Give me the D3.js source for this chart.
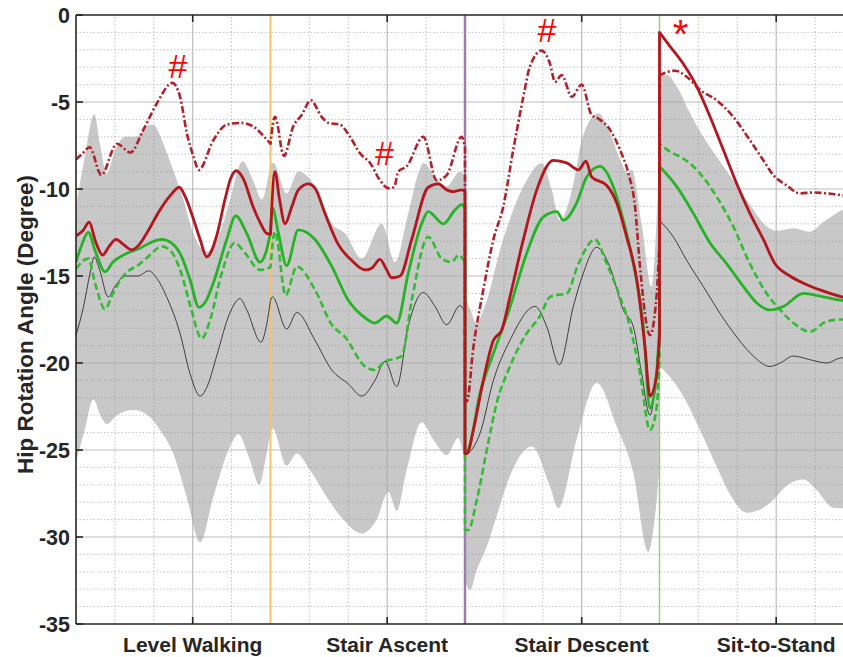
<!DOCTYPE html>
<html>
<head>
<meta charset="utf-8">
<script src="https://cdn.jsdelivr.net/npm/d3@7"></script>
<style>
body { margin: 0; background: #fff; }
svg { display: block; font-family: "Liberation Sans", Arial, sans-serif; }
</style>
</head>
<body>
<div id="container"></div>
<script>
// tasks along the x axis (each task spans 100 units)
var tasks = ["Level Walking", "Stair Ascent", "Stair Descent", "Sit-to-Stand"];
var taskTicks = [60, 160, 260, 360];
var taskBounds = [100, 200, 300];
var yTicks = [-35, -30, -25, -20, -15, -10, -5, 0];

// significance marks: [symbol, x, y]
var sigMarks = [["#", 52.4, -2.9], ["#", 158.6, -7.9], ["#", 242.2, -0.85], ["*", 310.8, -0.75]];

// grey band (upper / lower), one array per task
var bandUpper = [
	[[0,-11.0],[4.6,-8.1],[9.4,-5.7],[12.3,-7.4],[15.8,-9.1],[20,-7.8],[25.2,-7.0],[31.2,-7.0],[36.3,-6.4],[39.6,-6.3],[44.9,-7.4],[49.9,-8.9],[55.2,-10.6],[60.3,-12.55],[67.2,-13.6],[74,-12.55],[79.2,-10.6],[85.7,-8.4],[91,-9.5],[95.5,-10.6],[100,-8.5]],
	[[100,-8.5],[101.4,-8.5],[108.3,-10.25],[114.3,-9.0],[122.9,-9.85],[131.5,-12.0],[138.3,-12.55],[146.9,-14.0],[157.2,-12.0],[164,-14.2],[170.8,-11.4],[176,-9.1],[178.6,-8.5],[184.6,-9.3],[190.6,-9.85],[197.4,-9.0],[200,-9.3]],
	[[200,-16.2],[203,-17.0],[205.7,-17.7],[211.2,-16.4],[218,-13.5],[224.8,-11.2],[231.7,-9.5],[239.4,-8.5],[244.6,-10.05],[248.8,-11.8],[255.7,-9.7],[260,-7.2],[268.5,-5.65],[274.6,-6.8],[279.7,-8.3],[284,-9.1],[285.7,-8.9],[290.8,-12.0],[295.9,-15.6],[298.6,-11.5],[300,-7.5]],
	[[300,-3.45],[303.7,-3.45],[308.8,-4.1],[315.7,-5.65],[322.5,-7.0],[329.4,-8.15],[337.9,-9.5],[346.5,-10.9],[355.1,-12.15],[360.2,-12.4],[368.8,-12.25],[377.4,-12.45],[384.2,-11.9],[393.7,-11.2],[400,-10.9]]
];
var bandLower = [
	[[0,-25.7],[4.6,-23.8],[8.9,-22.1],[12.5,-23.0],[15.8,-23.5],[21,-23.0],[29.5,-22.7],[37,-23.0],[43.2,-23.85],[50,-25.2],[56.9,-27.7],[63.8,-30.3],[70.6,-27.7],[79.2,-24.8],[83.4,-24.1],[89.5,-25.6],[94.2,-27.0],[98,-25.2],[100,-24.0]],
	[[100,-24.0],[101,-23.75],[108.3,-25.9],[113.5,-25.2],[120.3,-26.15],[128.9,-27.7],[137.4,-29.0],[146.9,-29.8],[154.6,-29.0],[160.6,-27.4],[164.9,-28.5],[170,-26.15],[177.7,-23.4],[183.7,-24.4],[190.6,-25.3],[196.6,-24.3],[199.1,-25.2],[200,-25.5]],
	[[200,-32.5],[202.6,-33.05],[206,-31.9],[211.2,-30.55],[216.3,-28.8],[223.1,-26.5],[234.3,-24.8],[243.7,-27.1],[248,-28.35],[257.4,-24.4],[267.7,-21.15],[278,-23.65],[286.5,-26.3],[294.2,-30.85],[297.5,-29.0],[300,-26.0]],
	[[300,-20.2],[305.4,-20.8],[312.2,-21.9],[320.8,-23.85],[329.4,-25.95],[336,-27.5],[345,-28.6],[352,-28.4],[358.2,-27.9],[366,-27.0],[374,-26.7],[380.8,-27.3],[389,-28.3],[394,-28.35],[400,-28.2]]
];

// thin black curve
var blackMean = [
	[[0,-18.4],[3.8,-16.8],[7.2,-14.85],[9.4,-13.9],[12,-14.6],[16.6,-16.2],[20,-15.6],[25.2,-15.0],[32,-15.0],[37.2,-14.7],[42,-15.2],[46.6,-16.2],[53.5,-18.3],[58.6,-20.6],[63.8,-21.9],[68,-21.2],[72.3,-19.6],[79.2,-17.1],[84.3,-16.3],[87.8,-16.95],[95.1,-18.8],[98,-17.8],[100,-16.4]],
	[[100,-16.4],[101,-16.2],[108.3,-18.05],[113.5,-17.1],[122.9,-18.7],[131.5,-20.4],[140,-21.2],[146.9,-21.9],[153.7,-21.0],[158.9,-19.9],[164.9,-21.35],[170.8,-17.9],[178.6,-15.95],[184.6,-16.75],[190.6,-17.8],[197.4,-16.7],[200,-17.1]],
	[[200,-25.3],[202.6,-25.1],[207.7,-24.05],[214.6,-21.0],[223.1,-18.7],[236,-16.75],[242,-17.9],[248.5,-20.1],[255.7,-16.75],[260.8,-14.85],[267.7,-13.35],[274.6,-14.5],[281.4,-16.95],[286.5,-17.9],[290.8,-20.6],[295.1,-23.0],[298.6,-20.5],[300,-19.0]],
	[[300,-11.8],[307.1,-12.75],[314,-14.1],[322.5,-15.6],[331.1,-17.15],[339.7,-18.5],[348.2,-19.6],[356.8,-20.2],[362,-20.0],[368.8,-19.6],[377,-19.8],[386,-20.0],[393.7,-19.7],[400,-19.7]]
];

// dark red solid
var redSolid = [
	[[0,-12.7],[3.5,-12.4],[6.8,-11.9],[10,-13.0],[13.7,-13.8],[17,-13.3],[20.6,-12.9],[24.5,-13.2],[28.6,-13.5],[32.5,-13.2],[36.3,-12.55],[43.2,-11.2],[48.3,-10.4],[53.1,-9.9],[56,-10.4],[60,-11.6],[63.8,-12.9],[67.2,-13.9],[72.3,-12.7],[76.6,-10.6],[79.5,-9.4],[82.3,-8.95],[86,-9.4],[91,-11.0],[95,-12.0],[98,-12.55],[100,-12.6]],
	[[100,-12.6],[102.3,-9.0],[104.5,-10.5],[107.5,-12.0],[111,-11.0],[114.3,-10.05],[119.4,-9.7],[122.9,-9.95],[128,-11.4],[134.9,-13.2],[141.7,-14.1],[148.6,-14.65],[152,-14.55],[156.3,-14.05],[159.5,-14.6],[162.3,-15.1],[166.6,-15.0],[172.6,-12.9],[181.1,-9.9],[186.3,-9.7],[190.6,-10.05],[194,-10.15],[198.3,-10.05],[200,-10.15]],
	[[200,-25.2],[201,-25.2],[204.3,-23.85],[209.4,-21.0],[214.6,-18.7],[218.9,-18.1],[223.1,-16.2],[230,-12.9],[236.9,-10.05],[245.4,-8.35],[252.3,-8.5],[258.3,-8.9],[262.2,-8.4],[265.1,-9.3],[272.9,-9.8],[278,-10.8],[283.1,-12.75],[288.3,-15.2],[292.5,-19.05],[295.1,-21.9],[298.6,-20.6],[300,-18.5]],
	[[300,-1.0],[305.4,-1.8],[312.2,-2.8],[319.1,-4.1],[326,-5.85],[332.8,-7.75],[339.7,-9.7],[346.5,-11.4],[353.4,-12.9],[359.4,-14.3],[367.1,-15.0],[375.7,-15.5],[382.5,-15.8],[387.7,-16.0],[393.7,-16.2],[400,-16.35]]
];

// dark red dash-dot
var redDash = [
	[[0,-8.3],[3,-8.0],[7,-7.6],[13,-9.2],[21,-7.4],[28,-7.9],[34.6,-6.6],[41.5,-5.1],[49.5,-3.9],[53.5,-4.7],[57,-6.8],[60.3,-8.1],[63.2,-8.9],[70.6,-7.2],[77.5,-6.3],[85,-6.2],[91,-6.4],[96,-6.9],[100,-7.4]],
	[[100,-7.4],[102.3,-5.85],[106.9,-8.1],[111.7,-6.4],[116,-5.75],[120.7,-4.9],[126.3,-5.85],[129.7,-6.2],[135.7,-6.3],[140.9,-7.0],[146,-7.95],[151.2,-8.5],[156.3,-9.5],[160.6,-9.95],[163.5,-9.9],[165.7,-9.0],[170,-8.7],[178.6,-7.0],[185.4,-9.5],[190.6,-9.2],[198.3,-7.0],[200,-7.6]],
	[[200,-22.2],[201,-22.2],[204.3,-19.1],[209.4,-15.8],[214.6,-12.9],[219.7,-11.0],[224.8,-7.75],[230,-4.7],[233.4,-2.95],[239.4,-2.05],[243.7,-2.8],[246.3,-3.85],[249.7,-3.45],[254.9,-4.7],[260,-4.0],[265.1,-5.75],[268.5,-5.95],[274.6,-6.6],[279.7,-7.75],[284,-9.1],[287.4,-11.0],[290,-14.5],[295.1,-18.4],[298.6,-16.0],[300,-13.0]],
	[[300,-3.45],[308,-3.2],[314,-3.55],[320.8,-4.3],[329.4,-4.9],[337.9,-5.85],[346.5,-7.2],[353.4,-8.35],[358.5,-9.2],[365.4,-9.8],[372.2,-10.25],[379.1,-10.2],[386,-10.25],[393.7,-10.35],[400,-10.4]]
];

// green solid
var greenSolid = [
	[[0,-14.2],[3,-13.2],[6.3,-12.5],[10,-13.6],[14.9,-14.75],[19,-14.2],[24.3,-13.8],[32.9,-13.4],[38,-13.1],[44.1,-12.9],[49,-13.1],[53.5,-13.7],[58.6,-15.2],[63.2,-16.8],[67,-16.4],[70.6,-15.4],[77.5,-12.9],[82.1,-11.55],[87.8,-12.55],[94.6,-14.2],[98,-13.5],[100,-12.5]],
	[[100,-12.5],[101,-11.1],[104,-12.5],[108.3,-14.4],[114.3,-12.35],[122.9,-12.9],[131.5,-14.45],[140,-16.4],[148.6,-17.4],[153.7,-17.7],[159.7,-17.3],[164.9,-17.7],[170.8,-14.85],[177.7,-12.0],[181.1,-11.3],[188.8,-12.0],[194.9,-11.2],[198.3,-10.9],[200,-11.1]],
	[[200,-25.2],[201.7,-25.0],[207.7,-21.75],[214.6,-19.45],[223.1,-16.8],[231.7,-13.7],[240.3,-11.6],[247.2,-11.3],[250.5,-11.8],[257.4,-10.8],[262.6,-9.3],[269.4,-8.7],[276.2,-9.85],[281.4,-11.8],[286.5,-14.25],[291.7,-17.9],[295.1,-22.6],[298.2,-21.0],[300,-18.0]],
	[[300,-8.7],[308.8,-9.85],[317.4,-11.4],[326,-13.1],[334.6,-14.3],[343.1,-15.6],[350,-16.55],[356.8,-16.95],[363.7,-16.75],[373.9,-16.0],[384.2,-16.2],[393.7,-16.4],[400,-16.5]]
];

// green dashed
var greenDash = [
	[[0,-14.6],[6.3,-14.0],[10,-15.5],[14.9,-16.9],[19,-16.0],[24.3,-15.0],[32.9,-14.3],[38,-13.8],[44.1,-13.3],[49,-13.6],[54,-14.8],[59,-16.8],[64.6,-18.6],[69,-17.5],[75,-14.8],[81.6,-13.1],[87,-13.7],[94.6,-14.65],[100,-14.5]],
	[[100,-14.5],[102.3,-12.45],[107.8,-16.1],[113.5,-14.45],[122.9,-15.8],[131.5,-17.8],[138.3,-18.5],[148.6,-20.2],[153.7,-20.4],[158.9,-19.9],[162.3,-19.8],[167.5,-19.6],[172.6,-16.4],[181.1,-12.75],[188,-14.0],[193.2,-14.2],[196.6,-13.8],[200,-14.2]],
	[[200,-29.6],[201.7,-29.6],[206,-27.9],[211.2,-25.0],[216.3,-22.3],[223.1,-20.2],[231.7,-18.3],[238.6,-17.3],[243.7,-16.2],[247.2,-16.1],[252.3,-16.0],[258.3,-14.3],[266.8,-12.9],[272.9,-14.3],[279.7,-16.2],[284.8,-17.9],[290,-20.6],[295.1,-23.85],[298.6,-22.5],[300,-20.0]],
	[[300,-7.4],[305.4,-7.85],[312.2,-8.25],[320.8,-9.1],[329.4,-10.45],[337.9,-12.15],[346.5,-14.3],[355.1,-16.0],[363.7,-17.15],[370,-17.8],[377.4,-18.2],[386,-17.6],[393.7,-17.5],[400,-17.5]]
];

var W = 843, H = 657;
var margin = {top: 15, left: 76, bottom: 33};
var plotH = H - margin.top - margin.bottom;
var plotW = 778; // right edge runs past the picture

var x = d3.scaleLinear().domain([0, 400]).range([margin.left, margin.left + plotW]);
var y = d3.scaleLinear().domain([-35, 0]).range([margin.top + plotH, margin.top]);

var svg = d3.select("#container").append("svg")
	.attr("width", W)
	.attr("height", H);

svg.append("clipPath").attr("id", "plotclip")
	.append("rect")
	.attr("x", x(0)).attr("y", y(0))
	.attr("width", plotW).attr("height", plotH);

var plot = svg.append("g").attr("clip-path", "url(#plotclip)");

var line = d3.line()
	.x(d => x(d[0]))
	.y(d => y(d[1]))
	.curve(d3.curveMonotoneX);

// join the task pieces into one path, jumps become straight vertical steps
function joined( segs )
{
	return segs.map((s, i) => {
		var d = line(s);
		return i ? "L" + d.slice(1) : d;
	}).join("");
}

// band
var lowerRev = bandLower.slice().reverse().map(s => s.slice().reverse());
plot.append("path")
	.attr("d", joined(bandUpper) + "L" + joined(lowerRev).slice(1) + "Z")
	.attr("fill", "#c8c8c8")
	.attr("stroke", "none");

// minor grid (dotted)
var minorX = d3.range(20, 400, 20).filter(v => taskTicks.indexOf(v) < 0);
var minorY = d3.range(-34, 0, 1).filter(v => v % 5 != 0);

plot.selectAll(".gxm").data(minorX).enter().append("line")
	.attr("x1", d => x(d)).attr("x2", d => x(d))
	.attr("y1", y(-35)).attr("y2", y(0))
	.attr("stroke", "#9a9a9a").attr("stroke-opacity", 0.6)
	.attr("stroke-width", 1).attr("stroke-dasharray", "1.5,2");

plot.selectAll(".gym").data(minorY).enter().append("line")
	.attr("x1", x(0)).attr("x2", x(400))
	.attr("y1", d => y(d)).attr("y2", d => y(d))
	.attr("stroke", "#9a9a9a").attr("stroke-opacity", 0.6)
	.attr("stroke-width", 1).attr("stroke-dasharray", "1.5,2");

// major grid
plot.selectAll(".gx").data(taskTicks).enter().append("line")
	.attr("x1", d => x(d)).attr("x2", d => x(d))
	.attr("y1", y(-35)).attr("y2", y(0))
	.attr("stroke", "#a8a8a8").attr("stroke-opacity", 0.75).attr("stroke-width", 1.2);

plot.selectAll(".gy").data(yTicks.slice(1, -1)).enter().append("line")
	.attr("x1", x(0)).attr("x2", x(400))
	.attr("y1", d => y(d)).attr("y2", d => y(d))
	.attr("stroke", "#a8a8a8").attr("stroke-opacity", 0.75).attr("stroke-width", 1.2);

// task boundaries
var boundColors = ["#f2c46e", "#9c7fa9", "#98cc78"];
var boundWidths = [2, 2.5, 1.4];
plot.selectAll(".bound").data(taskBounds).enter().append("line")
	.attr("x1", d => x(d)).attr("x2", d => x(d))
	.attr("y1", y(-35)).attr("y2", y(0))
	.attr("stroke", (d, i) => boundColors[i])
	.attr("stroke-width", (d, i) => boundWidths[i]);

// curves
var curves = [
	{data: blackMean, color: "#1a1a1a", width: 0.8, dash: null},
	{data: greenDash, color: "#33bb33", width: 2.6, dash: "7,3.5"},
	{data: greenSolid, color: "#26b226", width: 2.8, dash: null},
	{data: redDash, color: "#b0222a", width: 2.6, dash: "7,2.5,2,2.5"},
	{data: redSolid, color: "#b3161e", width: 2.8, dash: null}
];

curves.forEach(c => {
	plot.append("path")
		.attr("d", joined(c.data))
		.attr("fill", "none")
		.attr("stroke", c.color)
		.attr("stroke-width", c.width)
		.attr("stroke-dasharray", c.dash)
		.attr("stroke-linejoin", "round");
});

// axes frame
svg.append("line")
	.attr("x1", x(0)).attr("x2", x(0)).attr("y1", y(0)).attr("y2", y(-35))
	.attr("stroke", "#262626").attr("stroke-width", 1.6);
svg.append("line")
	.attr("x1", x(0)).attr("x2", W).attr("y1", y(-35)).attr("y2", y(-35))
	.attr("stroke", "#262626").attr("stroke-width", 1.6);
svg.append("line")
	.attr("x1", x(0)).attr("x2", W).attr("y1", y(0)).attr("y2", y(0))
	.attr("stroke", "#262626").attr("stroke-width", 1.6);

// y ticks and labels
svg.selectAll(".ytick").data(yTicks).enter().append("line")
	.attr("x1", x(0)).attr("x2", x(0) + 7)
	.attr("y1", d => y(d)).attr("y2", d => y(d))
	.attr("stroke", "#262626").attr("stroke-width", 1.6);

svg.selectAll(".ylab").data(yTicks).enter().append("text")
	.attr("x", x(0) - 6)
	.attr("y", d => y(d))
	.attr("dy", "0.36em")
	.attr("text-anchor", "end")
	.style("font-size", "21.5px")
	.style("font-weight", "bold")
	.style("fill", "#262626")
	.text(d => d);

// x ticks (bottom and top) and task labels
svg.selectAll(".xtickb").data(taskTicks).enter().append("line")
	.attr("x1", d => x(d)).attr("x2", d => x(d))
	.attr("y1", y(-35)).attr("y2", y(-35) - 7)
	.attr("stroke", "#262626").attr("stroke-width", 1.6);
svg.selectAll(".xtickt").data(taskTicks).enter().append("line")
	.attr("x1", d => x(d)).attr("x2", d => x(d))
	.attr("y1", y(0)).attr("y2", y(0) + 7)
	.attr("stroke", "#262626").attr("stroke-width", 1.6);

svg.selectAll(".xlab").data(tasks).enter().append("text")
	.attr("x", (d, i) => x(taskTicks[i]))
	.attr("y", y(-35) + 28)
	.attr("text-anchor", "middle")
	.style("font-size", "21px")
	.style("font-weight", "bold")
	.style("fill", "#262626")
	.text(d => d);

// y axis title
svg.append("text")
	.attr("transform", "translate(33," + (margin.top + plotH / 2 + 5) + ") rotate(-90)")
	.attr("text-anchor", "middle")
	.style("font-size", "22.5px")
	.style("font-weight", "bold")
	.style("fill", "#262626")
	.text("Hip Rotation Angle (Degree)");

// significance marks
svg.selectAll(".sig").data(sigMarks).enter().append("text")
	.attr("x", d => x(d[1]))
	.attr("y", d => y(d[2]))
	.attr("dy", d => d[0] == "*" ? "0.5em" : "0.36em")
	.attr("text-anchor", "middle")
	.style("font-size", d => d[0] == "*" ? "40px" : "34px")
	.style("fill", "#ff0000")
	.text(d => d[0]);
</script>
</body>
</html>
